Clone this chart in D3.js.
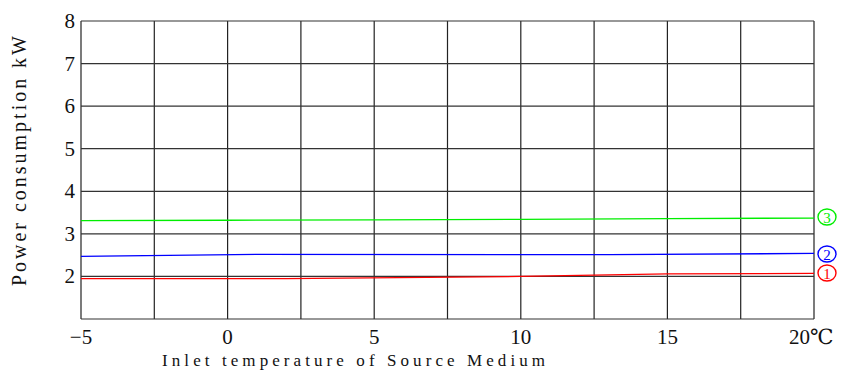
<!DOCTYPE html>
<html>
<head>
<meta charset="utf-8">
<script src="https://cdn.jsdelivr.net/npm/d3@7"></script>
<style>
  body { margin: 0; background: #fff; }
  svg text { font-family: "Liberation Serif", "DejaVu Serif", serif; }
</style>
</head>
<body>
<svg id="svg1" width="848" height="371"></svg>
<script>
// chart values
var xTicks = [-5, 0, 5, 10, 15, 20];
var xTickLabels = ['\u22125', '0', '5', '10', '15', '20\u2103'];
var yTicks = [2, 3, 4, 5, 6, 7, 8];

var series1Temp = [-5, 2, 10, 15, 20];
var series1Power = [1.95, 1.95, 2.0, 2.06, 2.07];

var series2Temp = [-5, 1, 13, 20];
var series2Power = [2.47, 2.52, 2.51, 2.54];

var series3Temp = [-5, 0, 5, 10, 15, 20];
var series3Power = [3.31, 3.32, 3.33, 3.34, 3.36, 3.37];

var seriesNames = ['1', '2', '3'];
var seriesColors = ['#ff0000', '#0000ff', '#00ee00'];

var svg = d3.select('#svg1');

var x = d3.scaleLinear().domain([-5, 20]).range([81, 814]);
var y = d3.scaleLinear().domain([1, 8]).range([319, 21]);

// grid
var g = svg.append('g');
g.selectAll('line.v')
    .data(d3.range(-5, 20.01, 2.5))
    .enter().append('line')
    .attr('x1', function(d){ return x(d); })
    .attr('x2', function(d){ return x(d); })
    .attr('y1', y(1)).attr('y2', y(8))
    .attr('stroke', '#222').attr('stroke-width', 1.2);

g.selectAll('line.h')
    .data(d3.range(1, 8.01, 1))
    .enter().append('line')
    .attr('x1', x(-5)).attr('x2', x(20))
    .attr('y1', function(d){ return y(d); })
    .attr('y2', function(d){ return y(d); })
    .attr('stroke', '#333').attr('stroke-width', 1.2);

// tick labels
svg.selectAll('text.yt')
    .data(yTicks)
    .enter().append('text')
    .attr('x', 75)
    .attr('y', function(d){ return y(d) + 7; })
    .attr('text-anchor', 'end')
    .attr('font-size', 21)
    .attr('fill', '#111')
    .text(function(d){ return d; });

svg.selectAll('text.xt')
    .data(xTicks)
    .enter().append('text')
    .attr('x', function(d, i){ return i == xTicks.length - 1 ? x(d) - 25 : x(d); })
    .attr('y', 344)
    .attr('text-anchor', function(d, i){ return i == xTicks.length - 1 ? 'start' : 'middle'; })
    .attr('font-size', 21)
    .attr('fill', '#111')
    .text(function(d, i){ return xTickLabels[i]; });

// axis titles
svg.append('text')
    .attr('transform', 'translate(26,286) rotate(-90)')
    .attr('font-size', 20)
    .attr('textLength', 250)
    .attr('lengthAdjust', 'spacing')
    .attr('fill', '#111')
    .text('Power consumption kW');

svg.append('text')
    .attr('x', 162)
    .attr('y', 366)
    .attr('font-size', 17)
    .attr('textLength', 383)
    .attr('lengthAdjust', 'spacing')
    .attr('fill', '#111')
    .text('Inlet temperature of Source Medium');

// lines
var line = d3.line()
    .x(function(d){ return x(d[0]); })
    .y(function(d){ return y(d[1]); });

var allSeries = [
    d3.zip(series1Temp, series1Power),
    d3.zip(series2Temp, series2Power),
    d3.zip(series3Temp, series3Power)
];

svg.selectAll('path.s')
    .data(allSeries)
    .enter().append('path')
    .attr('d', line)
    .attr('fill', 'none')
    .attr('stroke', function(d, i){ return seriesColors[i]; })
    .attr('stroke-width', 1.3);

// circled series numbers at the right end
var labelY = [273, 254, 217];
var lab = svg.selectAll('g.lab')
    .data(allSeries)
    .enter().append('g')
    .attr('transform', function(d, i){ return 'translate(827,' + labelY[i] + ')'; });

lab.append('ellipse')
    .attr('rx', 9).attr('ry', 8)
    .attr('fill', 'none')
    .attr('stroke', function(d, i){ return seriesColors[i]; })
    .attr('stroke-width', 1.4);

lab.append('text')
    .attr('y', 5.5)
    .attr('text-anchor', 'middle')
    .attr('font-size', 15)
    .attr('fill', function(d, i){ return seriesColors[i]; })
    .text(function(d, i){ return seriesNames[i]; });
</script>
</body>
</html>
